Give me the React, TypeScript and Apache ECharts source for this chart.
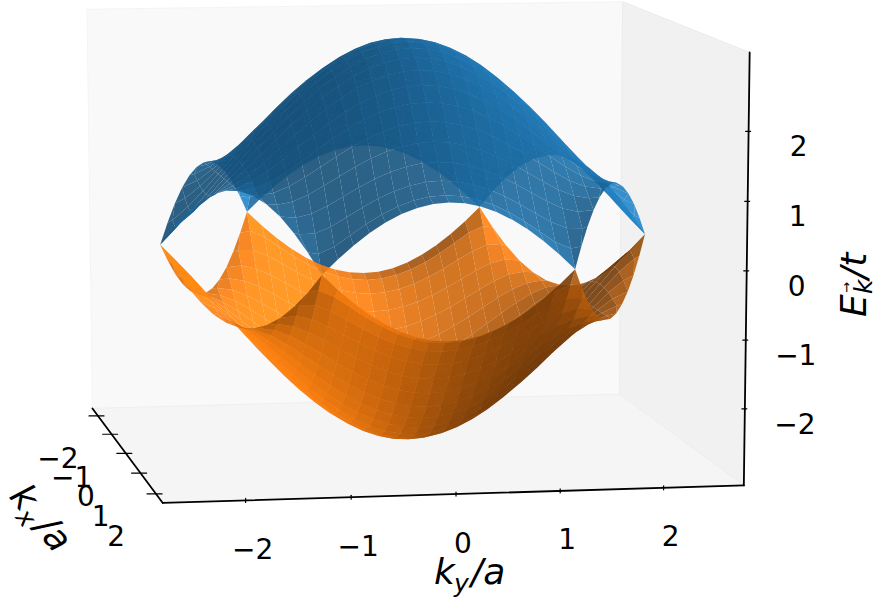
import React, { useEffect, useRef } from "react";
import * as echarts from "echarts";

// |kx| and |ky| sample positions of the first quadrant
const kxSamples = [0, 0.175, 0.349, 0.524, 0.698, 0.873, 1.047, 1.222, 1.396, 1.571, 1.745, 1.92, 2.094];
const kySamples = [0, 0.151, 0.302, 0.453, 0.605, 0.756, 0.907, 1.058, 1.209, 1.36, 1.511, 1.662, 1.814, 1.965, 2.116, 2.267, 2.418];
// |ky| where each kx row meets the hexagon's edge (the last value of each row below)
const rimKy = [2.418, 2.317, 2.217, 2.116, 2.015, 1.914, 1.814, 1.713, 1.612, 1.511, 1.411, 1.31, 1.209];
// Upper band E/t, one row per |kx|; rows stop at the hexagon's edge
const upperBand = [
  [3, 2.983, 2.932, 2.848, 2.732, 2.587, 2.414, 2.218, 2, 1.765, 1.518, 1.261, 1, 0.739, 0.482, 0.235, 0],
  [2.977, 2.96, 2.909, 2.826, 2.71, 2.566, 2.394, 2.199, 1.983, 1.751, 1.506, 1.254, 1, 0.751, 0.518, 0.327, 0.286],
  [2.909, 2.892, 2.842, 2.759, 2.646, 2.503, 2.334, 2.143, 1.932, 1.706, 1.471, 1.233, 1, 0.785, 0.609, 0.532],
  [2.798, 2.781, 2.732, 2.651, 2.54, 2.4, 2.236, 2.05, 1.848, 1.633, 1.414, 1.199, 1, 0.836, 0.732],
  [2.646, 2.63, 2.581, 2.502, 2.394, 2.259, 2.101, 1.924, 1.732, 1.533, 1.336, 1.153, 1, 0.898, 0.879],
  [2.457, 2.441, 2.394, 2.317, 2.213, 2.083, 1.932, 1.764, 1.587, 1.408, 1.239, 1.097, 1, 0.97],
  [2.236, 2.221, 2.175, 2.101, 2, 1.876, 1.732, 1.576, 1.414, 1.259, 1.126, 1.034, 1],
  [1.991, 1.976, 1.932, 1.859, 1.762, 1.642, 1.506, 1.361, 1.218, 1.091, 1, 0.966, 0.97],
  [1.732, 1.717, 1.673, 1.602, 1.506, 1.39, 1.259, 1.125, 1, 0.906, 0.866, 0.879],
  [1.474, 1.459, 1.414, 1.342, 1.245, 1.129, 1, 0.872, 0.765, 0.71, 0.732],
  [1.239, 1.224, 1.177, 1.102, 1, 0.877, 0.742, 0.611, 0.518, 0.51, 0.532],
  [1.066, 1.049, 1, 0.919, 0.809, 0.673, 0.518, 0.361, 0.261, 0.286],
  [1, 0.983, 0.932, 0.848, 0.732, 0.587, 0.414, 0.218, 0],
];
const kxTicks = [-2, -1, 0, 1, 2];
const kyTicks = [-2, -1, 0, 1, 2];
const eTicks = [-2, -1, 0, 1, 2];
const kxRange = [-2.42, 2.42];
const kyRange = [-2.78, 2.78];
const eRange = [-3.12, 3.12];

const BLUE = [31, 119, 180];
const ORANGE = [255, 127, 14];
const FONT = "'DejaVu Sans'";

// Camera fitted on where the box corners and ticks fall in the picture
const [x0, x1] = kxRange;
const [y0, y1] = kyRange;
const [z0, z1] = eRange;
const anchors: number[][] = [
  [x0, y0, z0, 92, 408], [x1, y0, z0, 162, 503], [x1, y1, z0, 743, 485], [x0, y1, z0, 619, 395],
  [x0, y0, z1, 87, 10], [x0, y1, z1, 623, 1], [x1, y1, z1, 749, 52],
  [-2, y0, z0, 98, 416], [-1, y0, z0, 112, 434], [0, y0, z0, 126, 453], [1, y0, z0, 141, 473], [2, y0, z0, 156, 494],
  [x1, -2, z0, 245, 501], [x1, -1, z0, 351, 497], [x1, 0, z0, 457, 494], [x1, 1, z0, 561, 491], [x1, 2, z0, 665, 488],
  [x1, y1, -2, 744, 409], [x1, y1, -1, 745, 340], [x1, y1, 0, 747, 271], [x1, y1, 1, 748, 201], [x1, y1, 2, 749, 132],
];
function fitCamera(): number[] {
  const n = 11;
  const M = Array.from({ length: n }, () => new Array(n + 1).fill(0));
  const add = (r: number[], b: number) => {
    for (let i = 0; i < n; i++) {
      for (let j = 0; j < n; j++) M[i][j] += r[i] * r[j];
      M[i][n] += r[i] * b;
    }
  };
  for (const [X, Y, Z, u, v] of anchors) {
    add([X, Y, Z, 1, 0, 0, 0, 0, -u * X, -u * Y, -u * Z], u);
    add([0, 0, 0, 0, X, Y, Z, 1, -v * X, -v * Y, -v * Z], v);
  }
  for (let c = 0; c < n; c++) {
    let p = c;
    for (let r = c + 1; r < n; r++) if (Math.abs(M[r][c]) > Math.abs(M[p][c])) p = r;
    [M[c], M[p]] = [M[p], M[c]];
    for (let r = 0; r < n; r++) {
      if (r === c) continue;
      const f = M[r][c] / M[c][c];
      for (let k = c; k <= n; k++) M[r][k] -= f * M[c][k];
    }
  }
  return M.map((row, i) => row[n] / row[i]);
}
const P = fitCamera();
const depth = (X: number, Y: number, Z: number) => P[8] * X + P[9] * Y + P[10] * Z + 1;
const project = (X: number, Y: number, Z: number): number[] => {
  const w = depth(X, Y, Z);
  return [(P[0] * X + P[1] * Y + P[2] * Z + P[3]) / w, (P[4] * X + P[5] * Y + P[6] * Z + P[7]) / w];
};
const nearFirst = depth(x1, 0, 0) < depth(x0, 0, 0) ? -1 : 1;

type Cell = { pts: number[][]; fill: string; d: number; c: number[] };
type Shade = (nx: number, ny: number) => number;
function buildCells(sign: number, base: number[], shade: Shade): Cell[] {
  const N = kxSamples.length - 1;
  const vertex = (i: number, j: number) => {
    const row = upperBand[Math.abs(i)];
    const aj = Math.abs(j);
    const ky = aj === row.length - 1 ? rimKy[Math.abs(i)] : kySamples[aj];
    return [Math.sign(i) * kxSamples[Math.abs(i)], Math.sign(j) * ky, sign * row[aj]];
  };
  const out: Cell[] = [];
  const addCell = (vs: number[][]) => {
    const a = vs[0], b = vs[1], c = vs[2], e = vs[vs.length - 1];
    const u = vs.length === 4 ? [c[0] - a[0], c[1] - a[1], c[2] - a[2]] : [b[0] - a[0], b[1] - a[1], b[2] - a[2]];
    const v = vs.length === 4 ? [e[0] - b[0], e[1] - b[1], e[2] - b[2]] : [c[0] - a[0], c[1] - a[1], c[2] - a[2]];
    let n = [u[1] * v[2] - u[2] * v[1], u[2] * v[0] - u[0] * v[2], u[0] * v[1] - u[1] * v[0]];
    const len = Math.hypot(n[0], n[1], n[2]) * (n[2] < 0 ? -1 : 1);
    n = n.map((q) => q / len);
    const s = shade(n[0], n[1]);
    const col = base.map((q) => Math.max(0, Math.min(255, Math.round(q * s))));
    const pts = vs.map((p) => project(p[0], p[1], p[2]));
    const mean = [0, 1, 2].map((m) => vs.reduce((acc, p) => acc + p[m], 0) / vs.length);
    out.push({
      pts,
      fill: `rgba(${col[0]},${col[1]},${col[2]},0.9)`,
      d: depth(mean[0], mean[1], mean[2]),
      c: project(mean[0], mean[1], mean[2]),
    });
  };
  for (let i = -N; i < N; i++) {
    const la = upperBand[Math.abs(i)].length - 1;
    const lb = upperBand[Math.abs(i + 1)].length - 1;
    const m = Math.min(la, lb);
    for (let j = -m; j < m; j++) {
      addCell([vertex(i, j), vertex(i + 1, j), vertex(i + 1, j + 1), vertex(i, j + 1)]);
    }
    for (const side of [1, -1]) {
      for (let j = m; j < la; j++) addCell([vertex(i, side * j), vertex(i + 1, side * m), vertex(i, side * (j + 1))]);
      for (let j = m; j < lb; j++) addCell([vertex(i, side * m), vertex(i + 1, side * j), vertex(i + 1, side * (j + 1))]);
    }
  }
  out.sort((p, q) => (nearFirst < 0 ? q.d - p.d : p.d - q.d));
  return out;
}

function cellSeries(cells: Cell[]) {
  return {
    type: "custom",
    coordinateSystem: "cartesian2d",
    silent: true,
    clip: false,
    progressive: 0,
    data: cells.map((c) => c.c),
    renderItem: (params: any, api: any) => {
      const cell = cells[params.dataIndex];
      return {
        type: "polygon",
        shape: { points: cell.pts.map((p) => api.coord(p)) },
        style: { fill: cell.fill, stroke: null },
      };
    },
  };
}

function polySeries(polys: { pts: number[][]; fill: string; stroke: string }[]) {
  return {
    type: "custom",
    coordinateSystem: "cartesian2d",
    silent: true,
    clip: false,
    data: polys.map((p) => p.pts[0]),
    renderItem: (params: any, api: any) => {
      const p = polys[params.dataIndex];
      return {
        type: "polygon",
        shape: { points: p.pts.map((q) => api.coord(q)) },
        style: { fill: p.fill, stroke: p.stroke, lineWidth: 1 },
      };
    },
  };
}

function lineSeries(lines: { a: number[]; b: number[]; w: number }[]) {
  return {
    type: "custom",
    coordinateSystem: "cartesian2d",
    silent: true,
    clip: false,
    data: lines.map((l) => l.a),
    renderItem: (params: any, api: any) => {
      const l = lines[params.dataIndex];
      const a = api.coord(l.a);
      const b = api.coord(l.b);
      return {
        type: "line",
        shape: { x1: a[0], y1: a[1], x2: b[0], y2: b[1] },
        style: { stroke: "#000", lineWidth: l.w, lineCap: "round" },
      };
    },
  };
}

function labelSeries(labels: { p: number[]; t: string }[]) {
  return {
    type: "custom",
    coordinateSystem: "cartesian2d",
    silent: true,
    clip: false,
    data: labels.map((l) => l.p),
    renderItem: (params: any, api: any) => {
      const l = labels[params.dataIndex];
      const a = api.coord(l.p);
      return {
        type: "text",
        style: { text: l.t, x: a[0], y: a[1], fill: "#000", align: "center", verticalAlign: "middle", font: `28px ${FONT}` },
      };
    },
  };
}

const tickText = (v: number) => (v < 0 ? `\u2212${-v}` : `${v}`);
const off = (p: number[], dx: number, dy: number) => [p[0] + dx, p[1] + dy];

function buildOption() {
  const panes = [
    { pts: [[x0, y0, z0], [x0, y1, z0], [x0, y1, z1], [x0, y0, z1]], fill: "#f9f9f9", stroke: "#f4f4f4" },
    { pts: [[x0, y1, z0], [x1, y1, z0], [x1, y1, z1], [x0, y1, z1]], fill: "#f1f1f1", stroke: "#ececec" },
    { pts: [[x0, y0, z0], [x1, y0, z0], [x1, y1, z0], [x0, y1, z0]], fill: "#f5f5f5", stroke: "#efefef" },
  ].map((p) => ({ ...p, pts: p.pts.map((q) => project(q[0], q[1], q[2])) }));

  const lines: { a: number[]; b: number[]; w: number }[] = [
    { a: project(x0, y0, z0), b: project(x1, y0, z0), w: 1.8 },
    { a: project(x1, y0, z0), b: project(x1, y1, z0), w: 1.8 },
    { a: project(x1, y1, z0), b: project(x1, y1, z1), w: 1.8 },
  ];
  const labels: { p: number[]; t: string }[] = [];
  kxTicks.forEach((v) => {
    const p = project(v, y0, z0);
    lines.push({ a: off(p, -9, 0), b: off(p, 6, 0), w: 1.2 });
    labels.push({ p: off(p, -40, 43), t: tickText(v) });
  });
  kyTicks.forEach((v) => {
    const p = project(x1, v, z0);
    lines.push({ a: off(p, 0, -2), b: off(p, 0, 2), w: 1.2 });
    labels.push({ p: off(p, 7, 49), t: tickText(v) });
  });
  eTicks.forEach((v) => {
    const p = project(x1, y1, v);
    lines.push({ a: off(p, -3, 0), b: off(p, 2, 0), w: 1.2 });
    labels.push({ p: off(p, 50, 15.5), t: tickText(v) });
  });

  const txt = (text: string, x: number, y: number, size: number, italic = true) => ({
    type: "text",
    silent: true,
    style: {
      text,
      x,
      y,
      fill: "#000",
      align: "left",
      verticalAlign: "middle",
      font: `${italic ? "italic " : ""}${size}px ${FONT}`,
    },
  });

  return {
    animation: false,
    backgroundColor: "#fff",
    grid: { left: 0, right: 0, top: 0, bottom: 0 },
    xAxis: { type: "value", min: 0, max: 876, show: false },
    yAxis: { type: "value", min: 0, max: 603, inverse: true, show: false },
    series: [
      polySeries(panes),
      lineSeries(lines),
      labelSeries(labels),
      cellSeries(buildCells(1, BLUE, (nx, ny) => 0.85 + (nx < 0 ? -0.3 : -0.1) * nx + 0.23 * ny)),
      cellSeries(buildCells(-1, ORANGE, (nx, ny) => 0.74 + (nx > 0 ? 0.3 : 0.12) * nx + 0.35 * ny)),
    ],
    graphic: [
      {
        type: "group",
        x: 434,
        y: 571,
        children: [txt("k", 0, 0, 36), txt("y", 20, 12, 25), txt("/a", 37, 0, 36)],
      },
      {
        type: "group",
        x: 18,
        y: 489,
        rotation: -0.89,
        children: [txt("k", 0, 0, 36), txt("x", 20, 12, 25), txt("/a", 40, 0, 36)],
      },
      {
        type: "group",
        x: 853,
        y: 317,
        rotation: Math.PI / 2,
        children: [txt("E", 0, 0, 36), txt("k", 23, 10, 25), txt("\u2192", 24, -7, 13, false), txt("/t", 38, 0, 36)],
      },
    ],
  };
}

export default function App() {
  const ref = useRef<HTMLDivElement>(null);
  useEffect(() => {
    const chart = echarts.init(ref.current as HTMLDivElement, undefined, { renderer: "svg" });
    chart.setOption(buildOption() as any);
    return () => chart.dispose();
  }, []);
  return <div ref={ref} style={{ position: "absolute", left: 0, top: 0, width: 876, height: 603 }} />;
}
